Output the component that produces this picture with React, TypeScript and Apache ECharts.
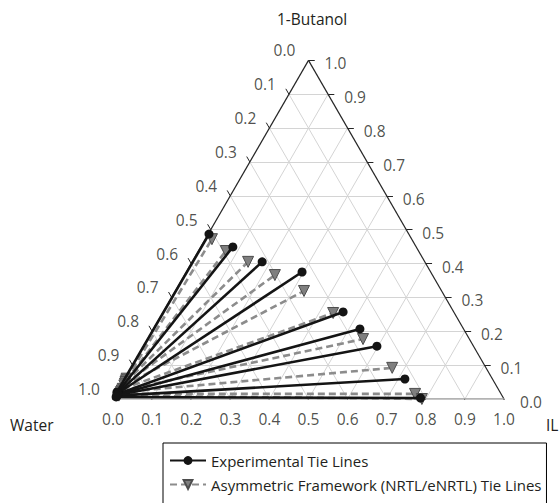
import React, { useEffect, useRef } from "react";
import * as echarts from "echarts";

// ---- data (mass fractions) ----
// Organic (IL-rich) phase end of each experimental tie line
const expOrgIL = [0.002, 0.082, 0.179, 0.296, 0.46, 0.528, 0.597, 0.717, 0.785];
const expOrgBu = [0.487, 0.449, 0.405, 0.375, 0.257, 0.207, 0.156, 0.059, 0.003];
// Aqueous (water-rich) phase end of each experimental tie line
const expAqIL = [0.0, 0.002, 0.003, 0.004, 0.005, 0.005, 0.005, 0.005, 0.005];
const expAqBu = [0.02, 0.02, 0.018, 0.017, 0.015, 0.013, 0.012, 0.01, 0.006];

// Model (Asymmetric framework NRTL/eNRTL) tie lines
const modOrgIL = [0.017, 0.07, 0.143, 0.231, 0.329, 0.436, 0.551, 0.668, 0.765, 0.79];
const modOrgBu = [0.472, 0.437, 0.405, 0.366, 0.319, 0.254, 0.177, 0.092, 0.015, 0.0];
const modAqIL = [0.005, 0.006, 0.007, 0.008, 0.009, 0.01, 0.01, 0.01, 0.01, 0.01];
const modAqBu = [0.06, 0.055, 0.05, 0.045, 0.04, 0.03, 0.025, 0.02, 0.015, 0.01];

const TICKS = [0, 0.1, 0.2, 0.3, 0.4, 0.5, 0.6, 0.7, 0.8, 0.9, 1.0];
const TICK_LABELS = ["0.0", "0.1", "0.2", "0.3", "0.4", "0.5", "0.6", "0.7", "0.8", "0.9", "1.0"];

const EXP_NAME = "Experimental Tie Lines";
const MOD_NAME = "Asymmetric Framework (NRTL/eNRTL) Tie Lines";

const SQ = Math.sqrt(3) / 2;
const FONT = "'Open Sans', 'Noto Sans', sans-serif";
const TXT = "#231f20";
const FS = 15.5;

// ternary (IL, butanol) -> cartesian
const toXY = (il: number, bu: number): [number, number] => [il + bu / 2, bu * SQ];

export default function App() {
  const ref = useRef<HTMLDivElement>(null);

  useEffect(() => {
    if (!ref.current) return;
    const chart = echarts.init(ref.current, undefined, { renderer: "svg" });

    // grid lines
    const gridSegs: any[] = [];
    TICKS.slice(1, -1).forEach((k) => {
      gridSegs.push({ coords: [toXY(0, k), toXY(1 - k, k)] }); // constant butanol
      gridSegs.push({ coords: [toXY(k, 0), toXY(k, 1 - k)] }); // constant IL
      gridSegs.push({ coords: [toXY(1 - k, 0), toXY(0, 1 - k)] }); // constant water
    });

    const tl = 0.016;
    const tickSegs: any[] = [];
    TICKS.forEach((k) => {
      const pL = toXY(0, 1 - k);
      tickSegs.push({ coords: [pL, [pL[0] - tl * 0.5, pL[1] + tl * SQ]] });
      const pR = toXY(1 - k, k);
      tickSegs.push({ coords: [pR, [pR[0] + tl, pR[1]]] });
      const pB = toXY(k, 0);
      tickSegs.push({ coords: [pB, [pB[0] - tl * 0.5, pB[1] - tl * SQ]] });
    });

    const leftLabels = TICKS.map((k, idx) => {
      const p = toXY(0, 1 - k);
      return [p[0], p[1], TICK_LABELS[idx]];
    });
    const rightLabels = TICKS.map((k, idx) => {
      const p = toXY(1 - k, k);
      return [p[0], p[1], TICK_LABELS[idx]];
    });
    const bottomLabels = TICKS.map((k, idx) => {
      const p = toXY(k, 0);
      return [p[0], p[1], TICK_LABELS[idx]];
    });

    const labelSeries = (data: any[], offset: number[]) => ({
      type: "scatter",
      data,
      symbolSize: 0,
      silent: true,
      clip: false,
      z: 5,
      label: {
        show: true,
        position: "inside",
        offset,
        formatter: (p: any) => p.value[2],
        color: TXT,
        fontSize: FS,
        fontFamily: FONT,
      },
    });

    const modSeries = modOrgIL.map((_, k) => ({
      type: "line",
      name: MOD_NAME,
      data: [toXY(modAqIL[k], modAqBu[k]), toXY(modOrgIL[k], modOrgBu[k])],
      symbol: "triangle",
      symbolRotate: 180,
      symbolSize: 11,
      showSymbol: true,
      clip: false,
      z: 10,
      lineStyle: { color: "#8c8c8c", width: 2.6, type: [7, 4] },
      itemStyle: { color: "#7f7f7f", borderColor: "#4d4d4d", borderWidth: 1 },
    }));

    const expSeries = expOrgIL.map((_, k) => ({
      type: "line",
      name: EXP_NAME,
      data: [toXY(expAqIL[k], expAqBu[k]), toXY(expOrgIL[k], expOrgBu[k])],
      symbol: "circle",
      symbolSize: 9,
      showSymbol: true,
      clip: false,
      z: 11,
      lineStyle: { color: "#141414", width: 2.6 },
      itemStyle: { color: "#141414" },
    }));

    chart.setOption({
      animation: false,
      backgroundColor: "#ffffff",
      grid: { left: 113, right: 56, top: 503 - 104 - 391 * SQ, bottom: 104, containLabel: false },
      xAxis: { type: "value", min: 0, max: 1, show: false },
      yAxis: { type: "value", min: 0, max: SQ, show: false },
      legend: {
        orient: "vertical",
        left: 163,
        top: 443,
        height: 120,
        itemWidth: 36,
        itemHeight: 11,
        itemGap: 9,
        padding: [10, 5, 20, 6],
        borderColor: "#000",
        borderWidth: 1,
        backgroundColor: "#fff",
        textStyle: { fontSize: 15, color: TXT, fontFamily: FONT },
        data: [EXP_NAME, MOD_NAME],
      },
      graphic: [
        { type: "text", left: 277, top: 11, style: { text: "1-Butanol", fontSize: FS, fontFamily: FONT, fill: TXT } },
        { type: "text", left: 10, top: 417, style: { text: "Water", fontSize: FS, fontFamily: FONT, fill: TXT } },
        { type: "text", left: 546, top: 417, style: { text: "IL", fontSize: FS, fontFamily: FONT, fill: TXT } },
      ],
      series: [
        {
          type: "lines",
          coordinateSystem: "cartesian2d",
          data: gridSegs,
          silent: true,
          z: 1,
          lineStyle: { color: "#d4d4d4", width: 1, opacity: 1 },
        },
        {
          type: "lines",
          coordinateSystem: "cartesian2d",
          data: [{ coords: [toXY(0, 0), toXY(0, 1)] }, { coords: [toXY(0, 1), toXY(1, 0)] }],
          silent: true,
          z: 2,
          lineStyle: { color: "#262626", width: 1.2, opacity: 1 },
        },
        {
          type: "lines",
          coordinateSystem: "cartesian2d",
          data: [{ coords: [toXY(0, 0), toXY(1, 0)] }],
          silent: true,
          z: 2,
          lineStyle: { color: "#9a9a9a", width: 1.6, opacity: 1 },
        },
        {
          type: "lines",
          coordinateSystem: "cartesian2d",
          data: tickSegs,
          silent: true,
          z: 2,
          lineStyle: { color: "#262626", width: 1, opacity: 1 },
        },
        labelSeries(leftLabels, [-24, -10]),
        labelSeries(rightLabels, [27, 3]),
        labelSeries(bottomLabels, [0, 20]),
        ...modSeries,
        ...expSeries,
      ],
    });

    return () => chart.dispose();
  }, []);

  return (
    <div
      ref={ref}
      style={{ position: "absolute", left: 0, top: 0, width: 560, height: 503 }}
    />
  );
}
